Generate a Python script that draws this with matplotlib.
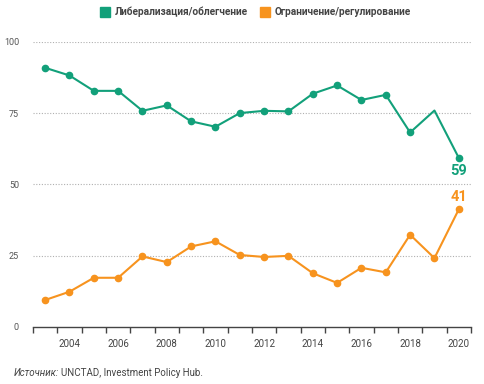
import matplotlib.pyplot as plt
import numpy as np

years = list(range(2003, 2021))
liberal = [90.9, 88.2, 82.8, 82.8, 75.8, 77.7, 72.1, 70.2, 75.0, 75.8, 75.6,
           81.8, 84.7, 79.6, 81.4, 68.2, 75.9, 59.3]
restrict = [9.4, 12.3, 17.2, 17.2, 24.7, 22.7, 28.2, 30.0, 25.2, 24.5, 24.9,
            18.8, 15.4, 20.7, 19.1, 32.3, 24.1, 41.2]
series_names = ["Либерализация/облегчение", "Ограничение/регулирование"]
year_labels = [2004, 2006, 2008, 2010, 2012, 2014, 2016, 2018, 2020]
y_ticks = [0, 25, 50, 75, 100]

green = '#12a07a'
orange = '#f7931e'
fam = ['Roboto', 'DejaVu Sans']

fig = plt.figure(figsize=(4.85, 3.84), dpi=100)
ax = fig.add_axes([0.068, 0.149, 0.903, 0.742])

# green series: no marker on 2019 in the original
green_marks = [i for i, y in enumerate(years) if y != 2019]
ax.plot(years, liberal, color=green, lw=1.5, marker='o', ms=4.5,
        markevery=green_marks, zorder=3)
ax.plot(years, restrict, color=orange, lw=1.5, marker='o', ms=4.5, zorder=3)

ax.text(years[-1], liberal[-1] - 2.3, f"{round(liberal[-1])}", color=green,
        fontsize=10.5, fontweight='bold', family=fam, ha='center', va='top')
ax.text(years[-1], restrict[-1] + 2.0, f"{round(restrict[-1])}", color=orange,
        fontsize=10.5, fontweight='bold', family=fam, ha='center', va='bottom')

ax.set_xlim(years[0] - 0.5, years[-1] + 0.5)
ax.set_ylim(0, 100)

ax.set_yticks(y_ticks)
ax.set_yticklabels([str(t) for t in y_ticks], fontsize=6.5, color='#555555',
                   family=fam)
ax.tick_params(axis='y', length=0, pad=10)
for t in y_ticks[1:]:
    ax.axhline(t, color='#b0b0b0', lw=0.8, ls=(0, (1, 1.5)), zorder=1)

ax.set_xticks(year_labels)
ax.set_xticklabels([str(y) for y in year_labels], fontsize=7,
                   color='#444444', family=fam)
ax.set_xticks(np.arange(years[0] - 0.5, years[-1] + 1), minor=True)
ax.tick_params(axis='x', which='major', length=0, pad=9)
ax.tick_params(axis='x', which='minor', length=4, width=1, color='#444444',
               direction='out')

for s in ['top', 'right', 'left']:
    ax.spines[s].set_visible(False)
ax.spines['bottom'].set_color('#444444')
ax.spines['bottom'].set_linewidth(1)

# legend
fig.patches.append(plt.Rectangle((100 / 485, 1 - 17 / 384), 10 / 485, 10 / 384,
                                 transform=fig.transFigure, color=green))
fig.text(115 / 485, 1 - 12 / 384, series_names[0], fontsize=7.3,
         fontweight='bold', color='#444444', family=fam, va='center')
fig.patches.append(plt.Rectangle((260 / 485, 1 - 17 / 384), 10 / 485, 10 / 384,
                                 transform=fig.transFigure, color=orange))
fig.text(275 / 485, 1 - 12 / 384, series_names[1], fontsize=7.3,
         fontweight='bold', color='#444444', family=fam, va='center')

# source line: italic part followed by regular part
src1 = fig.text(14 / 485, 1 - 373 / 384, "Источник:", fontsize=7,
                style='italic', color='#444444', family=fam, va='center')
fig.canvas.draw()
bb = src1.get_window_extent()
fig.text((bb.x1 + 2) / fig.bbox.width, 1 - 373 / 384,
         "UNCTAD, Investment Policy Hub.", fontsize=7, color='#444444',
         family=fam, va='center')

fig.savefig('out.png', dpi=100)
